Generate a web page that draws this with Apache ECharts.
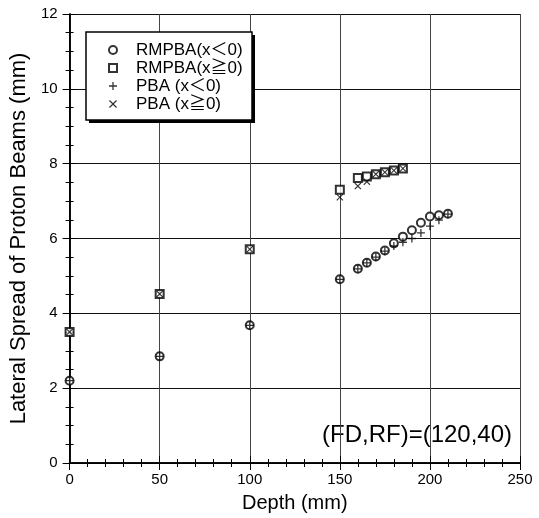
<!DOCTYPE html>
<html>
<head>
<meta charset="utf-8">
<script src="https://cdn.jsdelivr.net/npm/echarts@6/dist/echarts.min.js"></script>
<style>
  html, body { margin: 0; padding: 0; background: #fff; }
  #chart { width: 539px; height: 518px; }
</style>
</head>
<body>
<div id="chart"></div>
<script>
// depths (mm)
const depthNeg = [0, 50, 100, 150, 160, 165, 170, 175, 180, 185, 190, 195, 200, 205, 210]
const depthPos = [0, 50, 100, 150, 160, 165, 170, 175, 180, 185]

// lateral spread (mm)
const rmpbaNeg = [2.2, 2.85, 3.68, 4.91, 5.19, 5.35, 5.52, 5.68, 5.87, 6.05, 6.22, 6.42, 6.59, 6.62, 6.66]
const rmpbaPos = [3.5, 4.52, 5.71, 7.3, 7.62, 7.66, 7.72, 7.77, 7.82, 7.87]
const pbaNeg = [2.2, 2.85, 3.68, 4.91, 5.19, 5.35, 5.5, 5.66, 5.8, 5.9, 6.0, 6.15, 6.33, 6.49, 6.65]
const pbaPos = [3.5, 4.52, 5.71, 7.1, 7.4, 7.52, 7.72, 7.77, 7.82, 7.87]

const seriesNames = ['RMPBA(x＜0)', 'RMPBA(x≧0)', 'PBA (x＜0)', 'PBA (x≧0)']
const note = '(FD,RF)=(120,40)'

const FONT = '"Liberation Sans", Arial, "Noto Sans CJK JP", sans-serif'
const PLUS = 'path://M4.2,0H5.8V4.2H10V5.8H5.8V10H4.2V5.8H0V4.2H4.2Z'
const CROSS = 'path://M1.1,0L5,3.9L8.9,0L10,1.1L6.1,5L10,8.9L8.9,10L5,6.1L1.1,10L0,8.9L3.9,5L0,1.1Z'

const pairs = (xs, ys) => xs.map((x, i) => [x, ys[i]])

// negative lengths point the ticks into the plot
function frameAxis(minorSplit, extra) {
  return {
    type: 'value',
    axisLine: { lineStyle: { color: '#000', width: 1.5 } },
    axisTick: { length: -7, lineStyle: { color: '#000' } },
    minorTick: { show: true, splitNumber: minorSplit, length: -4, lineStyle: { color: '#000', width: 1 } },
    axisLabel: { show: false },
    splitLine: { show: false },
    ...extra,
  }
}

const chart = echarts.init(document.getElementById('chart'))

chart.setOption({
  animation: false,
  backgroundColor: '#fff',
  grid: { left: 67, right: 19, top: 14, bottom: 54 },
  legend: {
    orient: 'vertical',
    left: 86,
    top: 32,
    padding: [9, 12, 8, 22],
    itemGap: 0,
    itemWidth: 8,
    itemHeight: 8,
    z: 10,
    textStyle: { fontFamily: FONT, fontSize: 17, color: '#000', padding: [0, 0, 0, 14], lineHeight: 18 },
    data: seriesNames,
  },
  xAxis: [
    frameAxis(5, {
      min: 0,
      max: 250,
      interval: 50,
      position: 'bottom',
      splitLine: { show: true, lineStyle: { color: '#444', width: 1 } },
      axisLabel: { color: '#000', fontFamily: FONT, fontSize: 15, margin: 9 },
      name: 'Depth (mm)',
      nameLocation: 'middle',
      nameGap: 30,
      nameTextStyle: { color: '#000', fontFamily: FONT, fontSize: 20 },
    }),
    frameAxis(5, { min: 0, max: 250, interval: 50, position: 'top' }),
  ],
  yAxis: [
    frameAxis(4, {
      min: 0,
      max: 12,
      interval: 2,
      position: 'left',
      splitLine: { show: true, lineStyle: { color: '#111', width: 1.2 } },
      axisLabel: { color: '#000', fontFamily: FONT, fontSize: 15, margin: 12 },
      name: 'Lateral Spread of Proton Beams (mm)',
      nameLocation: 'middle',
      nameGap: 36,
      nameTextStyle: { color: '#000', fontFamily: FONT, fontSize: 22 },
    }),
    frameAxis(4, { min: 0, max: 12, interval: 2, position: 'right' }),
  ],
  graphic: [
    {
      type: 'rect',
      z: 5,
      shape: { x: 89, y: 35, width: 166, height: 88 },
      style: { fill: '#000' },
    },
    {
      type: 'rect',
      z: 6,
      shape: { x: 86, y: 32, width: 166, height: 88 },
      style: { fill: '#fff', stroke: '#000', lineWidth: 1.5 },
    },
    {
      type: 'text',
      left: 322,
      top: 423,
      style: { text: note, font: '24px ' + FONT, fill: '#000' },
    },
  ],
  series: [
    {
      name: seriesNames[0],
      type: 'scatter',
      data: pairs(depthNeg, rmpbaNeg),
      symbol: 'emptyCircle',
      symbolSize: 8,
      itemStyle: { color: '#000', borderWidth: 1.5 },
      z: 3,
    },
    {
      name: seriesNames[1],
      type: 'scatter',
      data: pairs(depthPos, rmpbaPos),
      symbol: 'emptyRect',
      symbolSize: 8,
      itemStyle: { color: '#000', borderWidth: 1.5 },
      z: 3,
    },
    {
      name: seriesNames[2],
      type: 'scatter',
      data: pairs(depthNeg, pbaNeg),
      symbol: PLUS,
      symbolSize: 8,
      itemStyle: { color: '#000' },
      z: 4,
    },
    {
      name: seriesNames[3],
      type: 'scatter',
      data: pairs(depthPos, pbaPos),
      symbol: CROSS,
      symbolSize: 7,
      itemStyle: { color: '#000' },
      z: 4,
    },
  ],
})
</script>
</body>
</html>
